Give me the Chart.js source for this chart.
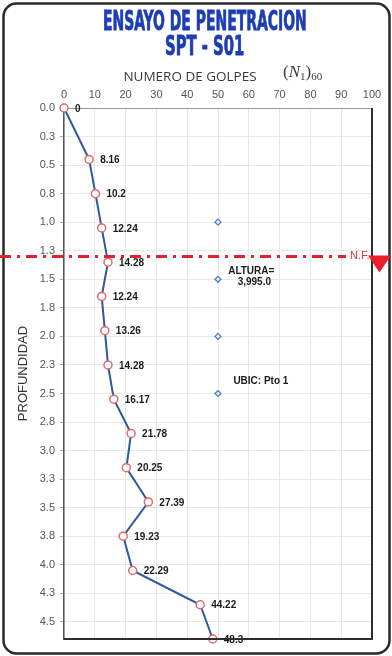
<!DOCTYPE html>
<html>
<head>
<meta charset="utf-8">
<title>Ensayo de Penetracion SPT - S01</title>
<script src="https://cdn.jsdelivr.net/npm/chart.js@4/dist/chart.umd.min.js"></script>
<style>
  html, body { margin: 0; padding: 0; background: #fff; }
  #wrap { position: relative; width: 392px; height: 656px; overflow: hidden; }
  #c { position: absolute; left: 0; top: 0; }
  .ttl { position: absolute; left: 9px; width: 392px; text-align: center; white-space: nowrap; }
  .ttl span { display: inline-block; font-family: "DejaVu Sans Condensed", "DejaVu Sans", sans-serif;
              font-weight: bold; color: #1d3db5; -webkit-text-stroke: 0.8px #1d3db5;
              font-size: 26px; line-height: 26px; transform-origin: center; }
  #xt { position: absolute; left: 0; top: 69px; width: 380px; text-align: center;
        font-family: "Open Sans", sans-serif; font-size: 13.5px; line-height: 14px; color: #3a3a3a; white-space: nowrap; }
  #xm { position: absolute; left: 283px; top: 62px; font-family: "Liberation Serif", "DejaVu Serif", serif;
        font-size: 17px; line-height: 20px; color: #3a3a3a; white-space: nowrap; }
  #xm sub { font-size: 11px; vertical-align: -3px; }
</style>
</head>
<body>
<div id="wrap">
  <canvas id="c" width="392" height="656"></canvas>
  <div class="ttl" style="top:8px"><span id="t1">ENSAYO DE PENETRACION</span></div>
  <div class="ttl" style="top:33px"><span id="t2">SPT - S01</span></div>
  <div id="xt">NUMERO DE GOLPES</div>
  <div id="xm">(<i>N</i><sub>1</sub>)<sub>60</sub></div>
</div>
<script>
// Corrected blow counts (N1)60 against depth
const depths = [0, 0.45, 0.75, 1.05, 1.35, 1.65, 1.95, 2.25, 2.55, 2.85, 3.15, 3.45, 3.75, 4.05, 4.35, 4.65];
const n160   = [0, 8.16, 10.2, 12.24, 14.28, 12.24, 13.26, 14.28, 16.17, 21.78, 20.25, 27.39, 19.23, 22.29, 44.22, 48.3];

// Reference markers at 50 blows
const refDepths = [1.0, 1.5, 2.0, 2.5];
const refBlows  = [50, 50, 50, 50];

// Axis ticks
const golpesTicks = [0, 10, 20, 30, 40, 50, 60, 70, 80, 90, 100];
const depthTicks = [0, 0.25, 0.5, 0.75, 1.0, 1.25, 1.5, 1.75, 2.0, 2.25, 2.5, 2.75, 3.0, 3.25, 3.5, 3.75, 4.0, 4.25, 4.5];
const depthTickLabels = ['0.0','0.3','0.5','0.8','1.0','1.3','1.5','1.8','2.0','2.3','2.5','2.8','3.0','3.3','3.5','3.8','4.0','4.3','4.5'];
const depthMax = 4.65;

// Water table and site notes
const nfDepth = 1.3;
const alturaText = ['ALTURA=', '3,995.0'];
const ubicText = 'UBIC: Pto 1';

// Squeeze the title lines to their condensed width
[['t1', 204], ['t2', 79]].forEach(([id, w]) => {
  const el = document.getElementById(id);
  el.style.transform = 'scaleX(' + (w / el.offsetWidth) + ')';
});

const extras = {
  id: 'extras',
  beforeDraw(chart) {
    const ctx = chart.ctx;
    ctx.save();
    ctx.fillStyle = '#fff';
    ctx.fillRect(0, 0, chart.width, chart.height);
    ctx.restore();
  },
  afterDatasetsDraw(chart) {
    const ctx = chart.ctx;
    const meta = chart.getDatasetMeta(0);
    ctx.save();
    ctx.font = 'bold 10px "Liberation Sans", Arial, sans-serif';
    ctx.fillStyle = '#1a1a1a';
    ctx.textAlign = 'left';
    ctx.textBaseline = 'middle';
    meta.data.forEach((pt, i) => {
      ctx.fillText(String(n160[i]), pt.x + 11, pt.y + 1);
    });
    ctx.restore();
  },
  afterDraw(chart) {
    const ctx = chart.ctx;
    const a = chart.chartArea;
    const xs = chart.scales.x, ys = chart.scales.y;
    ctx.save();

    // right and bottom plot borders
    ctx.strokeStyle = '#2e2e2e';
    ctx.lineWidth = 2;
    ctx.beginPath();
    ctx.moveTo(a.right, a.top);
    ctx.lineTo(a.right, a.bottom);
    ctx.lineTo(a.left, a.bottom);
    ctx.stroke();

    // site notes
    ctx.font = 'bold 10px "Liberation Sans", Arial, sans-serif';
    ctx.fillStyle = '#1a1a1a';
    ctx.textBaseline = 'middle';
    ctx.textAlign = 'center';
    ctx.fillText(alturaText[0], xs.getPixelForValue(60.8), ys.getPixelForValue(1.43));
    ctx.fillText(alturaText[1], xs.getPixelForValue(61.8), ys.getPixelForValue(1.53));
    ctx.textAlign = 'left';
    ctx.fillText(ubicText, xs.getPixelForValue(55), ys.getPixelForValue(2.39));

    // outer rounded frame
    ctx.strokeStyle = '#2a2a2a';
    ctx.lineWidth = 2.5;
    ctx.beginPath();
    ctx.roundRect(3.5, 3.5, 386, 650, 13);
    ctx.stroke();

    // water table (N.F.) dash-dot line
    const yNF = ys.getPixelForValue(nfDepth);
    ctx.strokeStyle = '#e0222b';
    ctx.lineWidth = 3;
    ctx.setLineDash([11, 6, 3, 6]);
    ctx.beginPath();
    ctx.moveTo(0, yNF);
    ctx.lineTo(346, yNF);
    ctx.stroke();
    ctx.setLineDash([]);

    ctx.font = '11px "Liberation Sans", Arial, sans-serif';
    ctx.fillStyle = '#d8353a';
    ctx.textAlign = 'left';
    ctx.textBaseline = 'middle';
    ctx.fillText('N.F.', 350, yNF);

    ctx.fillStyle = '#e8202a';
    ctx.beginPath();
    ctx.moveTo(a.right - 4, yNF - 1);
    ctx.lineTo(a.right + 19, yNF - 1);
    ctx.lineTo(a.right + 7.5, yNF + 16);
    ctx.closePath();
    ctx.fill();

    ctx.restore();
  }
};

new Chart(document.getElementById('c'), {
  type: 'scatter',
  data: {
    datasets: [
      {
        data: depths.map((d, i) => ({ x: n160[i], y: d })),
        showLine: true,
        borderColor: '#2c5a9a',
        borderWidth: 2,
        tension: 0,
        pointRadius: 4,
        pointBackgroundColor: '#fff',
        pointBorderColor: '#e06a6a',
        pointBorderWidth: 1.5,
        clip: false
      },
      {
        data: refDepths.map((d, i) => ({ x: refBlows[i], y: d })),
        showLine: false,
        pointStyle: 'rectRot',
        pointRadius: 3,
        pointBackgroundColor: '#e3ebf8',
        pointBorderColor: '#4a78c8',
        pointBorderWidth: 1.2
      }
    ]
  },
  options: {
    responsive: false,
    animation: false,
    events: [],
    layout: { padding: { left: 0, top: 0, right: 20, bottom: 17 } },
    plugins: { legend: { display: false }, tooltip: { enabled: false } },
    scales: {
      x: {
        type: 'linear',
        position: 'top',
        min: 0,
        max: 100,
        afterBuildTicks: s => { s.ticks = golpesTicks.map(v => ({ value: v })); },
        afterFit: s => { s.height = 108; },
        ticks: {
          color: '#555',
          font: { family: '"Liberation Sans", Arial, sans-serif', size: 11 },
          padding: 6,
          maxRotation: 0,
          autoSkip: false
        },
        grid: { color: '#e8e8e8', drawTicks: false },
        border: { color: '#9a9a9a', width: 1 }
      },
      y: {
        type: 'linear',
        reverse: true,
        min: 0,
        max: depthMax,
        afterBuildTicks: s => { s.ticks = depthTicks.map(v => ({ value: v })); },
        afterFit: s => { s.width = 64; },
        ticks: {
          color: '#555',
          font: { family: '"Liberation Sans", Arial, sans-serif', size: 11 },
          padding: 5,
          autoSkip: false,
          callback: (v, i) => depthTickLabels[i]
        },
        grid: { color: '#e8e8e8', tickLength: 4, tickColor: '#aaa' },
        border: { color: '#555', width: 1.5 },
        title: {
          display: true,
          text: 'PROFUNDIDAD',
          color: '#333',
          font: { family: '"Liberation Sans", Arial, sans-serif', size: 13 },
          padding: { top: 16, bottom: 0 }
        }
      }
    }
  },
  plugins: [extras]
});
</script>
</body>
</html>
